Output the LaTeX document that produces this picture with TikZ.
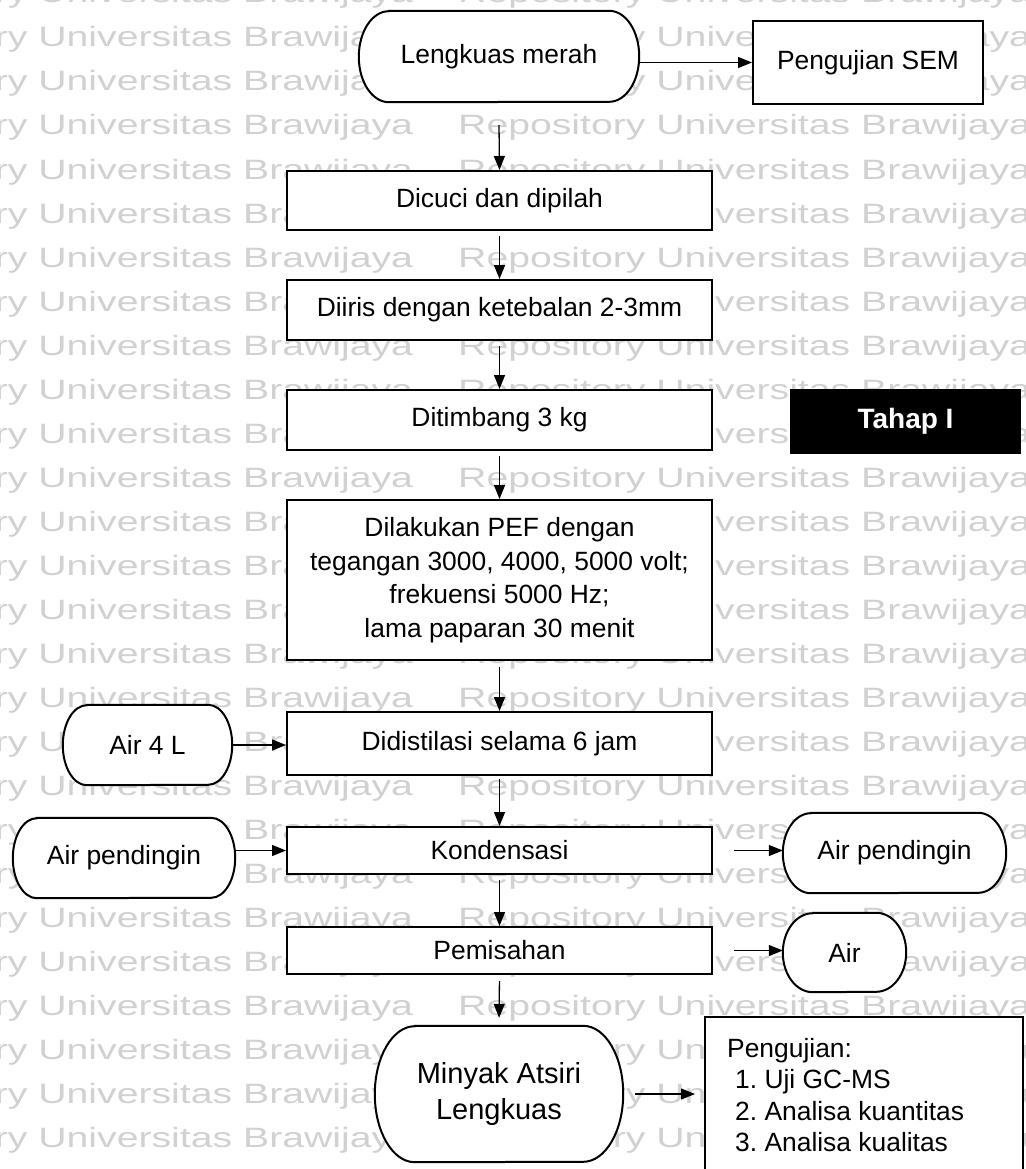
\documentclass[tikz,border=0pt]{standalone}
\usepackage{fontspec}
\setmainfont{Liberation Sans}
\usepackage{graphicx}
\usetikzlibrary{arrows.meta}
\pgfdeclarelayer{bg}
\pgfsetlayers{bg,main}
\frenchspacing

\newcommand\fs[2]{\fontsize{#1pt}{#2pt}\selectfont}

% outline of a terminal (capsule with elliptical ends) around node #1
\newcommand\capsule[3]{%
  \draw[line width=2pt, fill=white]
    ([xshift=#2]#1.north west) -- ([xshift=-#2]#1.north east)
    arc[start angle=90, end angle=-90, x radius=#2, y radius=#3]
    -- ([xshift=#2]#1.south west)
    arc[start angle=270, end angle=90, x radius=#2, y radius=#3] -- cycle;}

\tikzset{
  box/.style={draw, line width=2pt, fill=white, rectangle, inner sep=0pt,
              align=center, font=\fs{26.4}{33.6}},
  term/.style={rectangle, inner sep=0pt, align=center, font=\fs{26.4}{33.6}},
  arr/.style={-{Triangle[length=14pt,width=11pt]}, line width=1.3pt},
  wm/.style={anchor=base west, inner sep=0pt, text=black!18, font=\fs{28}{30}},
}

\begin{document}
\begin{tikzpicture}[x=1pt, y=-1pt]
\useasboundingbox (0,0) rectangle (1025,1169);

% terminals (outlines are drawn on the background layer)
\node[term, minimum width=280pt, minimum height=91pt] (lm) at (499,56.5) {Lengkuas merah};
\node[term, minimum width=169pt, minimum height=80pt] (a4) at (147.5,745) {Air 4 L};
\node[term, minimum width=222pt, minimum height=80pt] (apl) at (124,858) {Air pendingin};
\node[term, minimum width=223pt, minimum height=80pt] (apr) at (894.5,853) {Air pendingin};
\node[term, minimum width=123pt, minimum height=79pt] (air) at (844.5,952.5) {Air};
\node[term, minimum width=248pt, minimum height=136pt, font=\fs{29}{36}] (mny) at (499,1094) {Minyak Atsiri\\Lengkuas};

% process steps
\node[box, minimum width=230pt, minimum height=83pt] (sem) at (868,62.5) {Pengujian SEM};
\node[box, minimum width=425pt, minimum height=59pt] (dcc) at (499.5,200.5) {Dicuci dan dipilah};
\node[box, minimum width=425pt, minimum height=60pt] (dii) at (499.5,310) {Diiris dengan ketebalan 2-3mm};
\node[box, minimum width=425pt, minimum height=60pt] (dit) at (499.5,420) {Ditimbang 3 kg};
\node[box, minimum width=425pt, minimum height=160pt] (pef) at (499.5,580)
  {Dilakukan PEF dengan\\tegangan 3000, 4000, 5000 volt;\\frekuensi 5000 Hz;\\lama paparan 30 menit};
\node[box, minimum width=425pt, minimum height=63pt] (dis) at (499.5,743.5) {Didistilasi selama 6 jam};
\node[box, minimum width=425pt, minimum height=47pt] (kon) at (499.5,850.5) {Kondensasi};
\node[box, minimum width=425pt, minimum height=47pt] (pem) at (499.5,950.5) {Pemisahan};

% analysis box running off the bottom edge
\node[box, minimum width=318pt, minimum height=170pt] (pgj) at (864,1102) {};
\node[anchor=north west, align=left, inner sep=0pt, font=\fs{26.4}{31.5}] (pgjtext) at (727,1038)
  {Pengujian:\\\hspace{8pt}1. Uji GC-MS\\\hspace{8pt}2. Analisa kuantitas\\\hspace{8pt}3. Analisa kualitas};

% stage label
\node[fill=black, minimum width=231pt, minimum height=65pt, inner sep=0pt,
      text=white, font=\bfseries\fs{28}{30}] (tahap) at (905.5,421.5) {Tahap I};

% connectors
\draw[arr] (lm.east |- sem.west) -- (sem.west);
\draw[arr] ([yshift=-23pt]lm.south) -- (dcc.north);
\draw[arr, shorten <=5pt] (dcc.south) -- (dii.north);
\draw[arr, shorten <=5pt] (dii.south) -- (dit.north);
\draw[arr, shorten <=5pt] (dit.south) -- (pef.north);
\draw[arr, shorten <=6pt] (pef.south) -- (dis.north);
\draw[arr, shorten <=3pt] (dis.south) -- (kon.north);
\draw[arr, shorten <=5pt] (kon.south) -- (pem.north);
\draw[arr, shorten <=6pt, shorten >=8pt] (pem.south) -- (mny.north);
\draw[arr] (a4.east) -- (a4.east -| dis.west);
\draw[arr] (apl.east |- kon.west) -- (kon.west);
\draw[arr] ([xshift=21pt]kon.east) -- (kon.east -| apr.west);
\draw[arr] ([xshift=21pt]pem.east) -- (pem.east -| air.west);
\draw[arr, shorten <=12pt, shorten >=9pt] (mny.east) -- (mny.east -| pgj.west);

\begin{pgfonlayer}{bg}
  % repository watermark rows
  \foreach \k in {0,...,27} {
    \node[wm] (wa\k) at (-160,{3+44*\k}) {\scalebox{1.4}[1]{Repository Universitas Brawijaya}};
    \node[wm] (wb\k) at (458,{3+44*\k}) {\scalebox{1.4}[1]{Repository Universitas Brawijaya}};
  }
  \capsule{lm}{30pt}{45.5pt}
  \capsule{a4}{24pt}{40pt}
  \capsule{apl}{24pt}{40pt}
  \capsule{apr}{28pt}{40pt}
  \capsule{air}{30pt}{39.5pt}
  \capsule{mny}{40pt}{68pt}
\end{pgfonlayer}
\end{tikzpicture}
\end{document}
